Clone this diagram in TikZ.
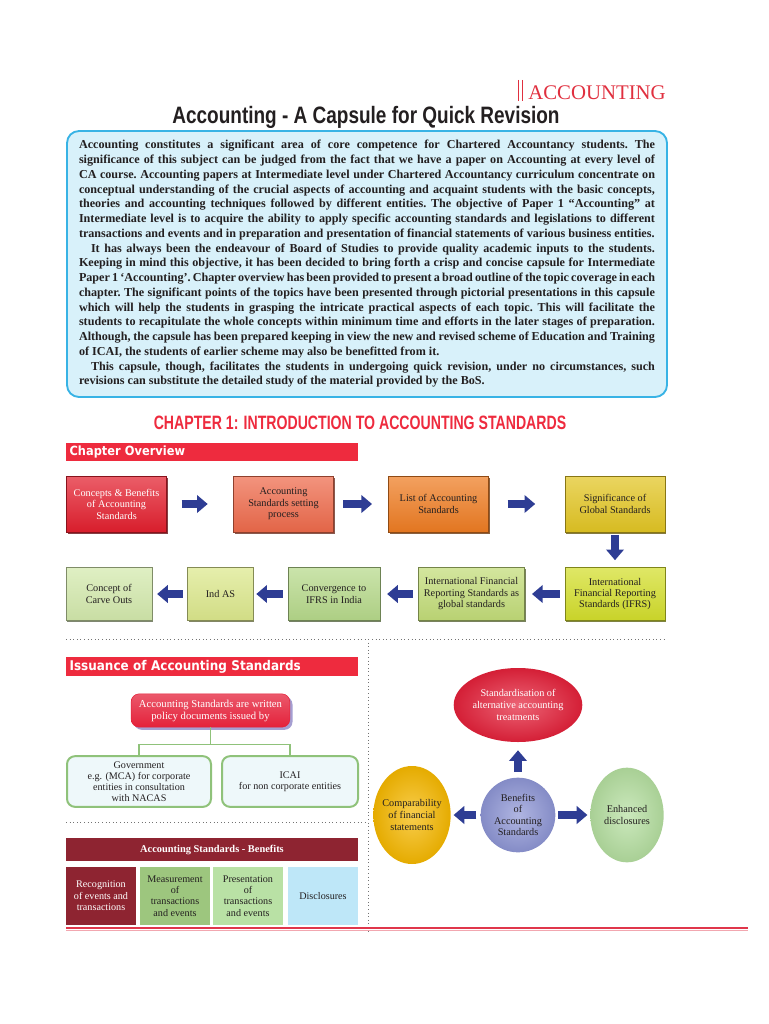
\documentclass[tikz,border=0pt]{standalone}
\usepackage{fontspec}
\setmainfont{Liberation Serif}
\newfontfamily\titlesans[FakeStretch=0.80]{Liberation Sans}
\newfontfamily\headsans[FakeStretch=0.73]{Liberation Sans}
\newfontfamily\barsans[FakeStretch=0.9]{DejaVu Sans}
\usetikzlibrary{arrows.meta, positioning, shapes.geometric, shadows}
\definecolor{accred}{HTML}{E0303F}
\definecolor{barred}{HTML}{EE2B3E}
\definecolor{introfill}{HTML}{D8F1FA}
\definecolor{introdraw}{HTML}{38B3E5}
\definecolor{inktext}{HTML}{231F20}
\definecolor{flowblue}{HTML}{2E3D94}
\definecolor{boxred}{HTML}{E31F2E}
\definecolor{boxsalmon}{HTML}{EE6A4B}
\definecolor{boxorange}{HTML}{EE7C22}
\definecolor{boxyellow}{HTML}{E2C523}
\definecolor{boxlime}{HTML}{D3DE2B}
\definecolor{boxleaf}{HTML}{C2DC78}
\definecolor{boxgreen}{HTML}{B6D98A}
\definecolor{boxpale}{HTML}{DCE88C}
\definecolor{boxmint}{HTML}{D3E9AC}
\definecolor{linkgreen}{HTML}{8FC27A}
\definecolor{issuefill}{HTML}{EEF8FA}
\definecolor{shadowlilac}{HTML}{9B93CC}
\definecolor{benmaroon}{HTML}{8E2431}
\definecolor{benmoss}{HTML}{9DC67E}
\definecolor{benlight}{HTML}{B9E1A5}
\definecolor{bensky}{HTML}{BEE7F8}
\definecolor{ovred}{HTML}{E4213A}
\definecolor{ovlilac}{HTML}{8E96D5}
\definecolor{ovamber}{HTML}{F6B800}
\definecolor{ovgreen}{HTML}{B5DFA0}
\definecolor{rulered}{HTML}{E0364B}
\definecolor{rulepink}{HTML}{F2A7B0}

\begin{document}
\begin{tikzpicture}[x=0.75pt, y=-0.75pt,
    intro/.style={draw=introdraw, fill=introfill, line width=1.4pt, rounded corners=9pt, text width=432pt, inner xsep=9pt, minimum height=199.5pt, align=justify, text=inktext, font={\fontsize{9.1}{11.06}\selectfont\bfseries\frenchspacing\tolerance=9999\relax}},
    bar/.style={fill=barred, text=white, anchor=west, text width=214pt, inner sep=2.5pt, minimum height=13.5pt, align=left, font=\barsans\bfseries\fontsize{9.5}{10}\selectfont},
    bevel/.style={rectangle, top color=#1!72!white, bottom color=#1!95!black, draw=#1!60!black, line width=0.7pt, drop shadow={shadow xshift=0.8pt, shadow yshift=-1.2pt, fill=#1!45!black, opacity=0.8}, minimum width=75pt, minimum height=42pt, inner sep=2pt, align=center, text=inktext, font=\fontsize{7.7}{8.6}\selectfont},
    flow/.style={draw=flowblue, line width=5.5pt, -{Triangle[length=8pt, width=13pt]}},
    divider/.style={dotted, line width=0.7pt, draw=black!55},
    issuehead/.style={rectangle, rounded corners=6pt, top color=ovred!75!white, bottom color=ovred, draw=ovred, drop shadow={shadow xshift=2pt, shadow yshift=-2pt, fill=shadowlilac, opacity=0.9}, minimum width=119pt, minimum height=25pt, align=center, text=white, font=\fontsize{8}{9}\selectfont},
    issuebox/.style={rectangle, rounded corners=6pt, fill=issuefill, draw=linkgreen, line width=1.5pt, minimum height=38pt, align=center, text=inktext, font=\fontsize{7.6}{8.3}\selectfont},
    link/.style={draw=linkgreen, line width=1pt},
    benhead/.style={fill=benmaroon, text=white, minimum width=219pt, minimum height=17pt, font=\bfseries\fontsize{7.8}{9}\selectfont},
    bencell/.style={fill=#1, minimum width=52.5pt, minimum height=43.5pt, inner sep=1pt, align=center, text=inktext, font=\fontsize{7.6}{8.5}\selectfont},
    oval/.style={ellipse, inner color=#1!70!white, outer color=#1!93!black, inner sep=0pt, align=center, text=inktext, font=\fontsize{7.7}{8.7}\selectfont}
  ]
  \useasboundingbox (0,0) rectangle (768,1024);

  % running head and title
  \draw[accred, line width=0.6pt] (518,80) -- (518,101) (522,80) -- (522,101);
  \node[anchor=base west, inner sep=0pt, text=accred, font=\fontsize{15.6}{16}\selectfont] (runhead) at (528,99) {ACCOUNTING};
  \node[anchor=base, inner sep=0pt, text=inktext, font=\titlesans\bfseries\fontsize{17.8}{20}\selectfont] (title) at (366,123) {Accounting - A Capsule for Quick Revision};

  \node[intro] (capsule) at (367,264) {%
    Accounting constitutes a significant area of core competence for Chartered Accountancy students. The\linebreak
    significance of this subject can be judged from the fact that we have a paper on Accounting at every level of\linebreak
    CA course. Accounting papers at Intermediate level under Chartered Accountancy curriculum concentrate on\linebreak
    conceptual understanding of the crucial aspects of accounting and acquaint students with the basic concepts,\linebreak
    theories and accounting techniques followed by different entities. The objective of Paper 1 “Accounting” at\linebreak
    Intermediate level is to acquire the ability to apply specific accounting standards and legislations to different\linebreak
    transactions and events and in preparation and presentation of financial statements of various business entities.\par
    \hspace*{9pt}It has always been the endeavour of Board of Studies to provide quality academic inputs to the students.\linebreak
    Keeping in mind this objective, it has been decided to bring forth a crisp and concise capsule for Intermediate\linebreak
    Paper 1 ‘Accounting’. Chapter overview has been provided to present a broad outline of the topic coverage in each\linebreak
    chapter. The significant points of the topics have been presented through pictorial presentations in this capsule\linebreak
    which will help the students in grasping the intricate practical aspects of each topic. This will facilitate the\linebreak
    students to recapitulate the whole concepts within minimum time and efforts in the later stages of preparation.\linebreak
    Although, the capsule has been prepared keeping in view the new and revised scheme of Education and Training\linebreak
    of ICAI, the students of earlier scheme may also be benefitted from it.\par
    \hspace*{9pt}This capsule, though, facilitates the students in undergoing quick revision, under no circumstances, such\linebreak
    revisions can substitute the detailed study of the material provided by the BoS.};

  \node[anchor=base, inner sep=0pt, text=barred, font=\headsans\bfseries\fontsize{14.5}{16}\selectfont] (chapter) at (360,429) {CHAPTER 1: INTRODUCTION TO ACCOUNTING STANDARDS};

  % chapter overview flow
  \node[bar] (overview) at (66,452) {Chapter Overview};
  \node[bevel=boxred, text=white] (concepts) at (116.5,504) {Concepts \& Benefits\\of Accounting\\Standards};
  \node[bevel=boxsalmon] (setting) at (283.5,504) {Accounting\\Standards setting\\process};
  \node[bevel=boxorange] (list) at (438.5,504) {List of Accounting\\Standards};
  \node[bevel=boxyellow] (global) at (615,504) {Significance of\\Global Standards};
  \node[bevel=boxlime, minimum height=40pt] (ifrs) at (615,594) {International\\Financial Reporting\\Standards (IFRS)};
  \node[bevel=boxleaf, minimum height=40pt, minimum width=80pt] (asglobal) at (471.5,594) {International Financial\\Reporting Standards as\\global standards};
  \node[bevel=boxgreen, minimum height=40pt, minimum width=69pt] (converge) at (334,594) {Convergence to\\IFRS in India};
  \node[bevel=boxpale, minimum height=40pt, minimum width=49pt] (indas) at (220.5,594) {Ind AS};
  \node[bevel=boxmint, minimum height=40pt, minimum width=64.5pt] (carve) at (109,594) {Concept of\\Carve Outs};

  \draw[flow, shorten <=11pt, shorten >=19pt] (concepts) -- (setting);
  \draw[flow, shorten <=7pt, shorten >=12pt] (setting) -- (list);
  \draw[flow, shorten <=14pt, shorten >=22pt] (list) -- (global);
  \draw[flow, shorten <=2pt, shorten >=5pt] (global) -- (ifrs);
  \draw[flow, shorten <=3.5pt, shorten >=5pt] (ifrs) -- (asglobal);
  \draw[flow, shorten <=3.5pt, shorten >=5pt] (asglobal) -- (converge);
  \draw[flow, shorten <=3.5pt, shorten >=2pt] (converge) -- (indas);
  \draw[flow, shorten <=3.5pt, shorten >=3.5pt] (indas) -- (carve);

  \draw[divider] (66,639) -- (664,639);
  \draw[divider] (368,639) -- (368,931);
  \draw[divider] (66,822) -- (368,822);

  % issuance
  \node[bar, minimum height=13pt, font=\barsans\bfseries\fontsize{10}{11}\selectfont] (issuance) at (66,666.5) {Issuance of Accounting Standards};
  \node[issuehead] (written) at (210.5,710.5) {Accounting Standards are written\\policy documents issued by};
  \node[issuebox, minimum width=108pt] (gov) at (139,781.5) {Government\\e.g. (MCA) for corporate\\entities in consultation\\with NACAS};
  \node[issuebox, minimum width=102pt] (icai) at (290,781.5) {ICAI\\for non corporate entities};
  \draw[link] (written.south) -- ++(0,17) coordinate (fork);
  \draw[link] (gov.north) |- (fork) -| (icai.north);

  % benefits table
  \node[benhead] (benefits) at (212,849.5) {Accounting Standards - Benefits};
  \node[bencell=benmaroon, text=white] (recog) at (101,896) {Recognition\\of events and\\transactions};
  \node[bencell=benmoss] (measure) at (175,896) {Measurement\\of\\transactions\\and events};
  \node[bencell=benlight] (present) at (248,896) {Presentation\\of\\transactions\\and events};
  \node[bencell=bensky] (disclose) at (323,896) {Disclosures};

  % benefits wheel
  \node[oval=ovred, minimum width=94pt, minimum height=55.5pt, text=white] (stdz) at (518,705) {Standardisation of\\alternative accounting\\treatments};
  \node[oval=ovlilac, minimum width=56pt, minimum height=56pt] (core) at (518,815) {Benefits\\of\\Accounting\\Standards};
  \node[oval=ovamber, minimum width=58pt, minimum height=73.5pt, inner xsep=-2pt] (compare) at (412,815) {Comparability\\of financial\\statements};
  \node[oval=ovgreen, minimum width=55pt, minimum height=71pt] (enhanced) at (627,815) {Enhanced\\disclosures};
  \draw[flow, shorten <=4pt, shorten >=6pt] (core) -- (stdz);
  \draw[flow, shorten <=3pt, shorten >=2pt] (core) -- (compare);
  \draw[flow, shorten <=2pt, shorten >=2pt] (core) -- (enhanced);

  \draw[rulered, line width=1.1pt] (66,928) -- (748,928);
  \draw[rulepink, line width=0.9pt] (66,930.5) -- (748,930.5);
\end{tikzpicture}
\end{document}
